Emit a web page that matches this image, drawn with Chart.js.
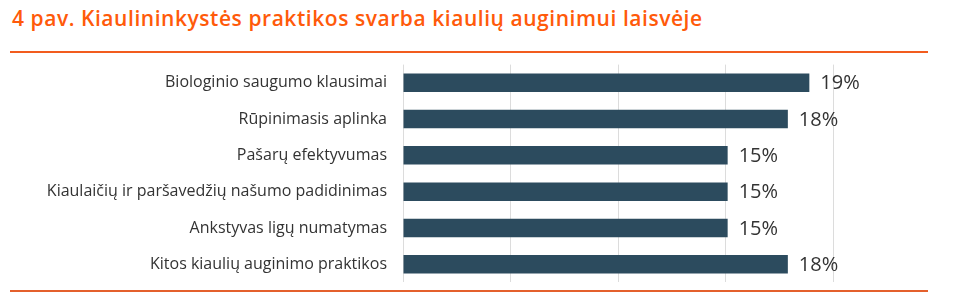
<!DOCTYPE html>
<html>
<head>
<meta charset="utf-8">
<script src="https://cdn.jsdelivr.net/npm/chart.js@4"></script>
<style>
  body { margin: 0; background: #fff; }
  #wrap { position: relative; width: 962px; height: 299px; }
  #title {
    position: absolute; left: 12px; top: 4px;
    font-family: "Open Sans", sans-serif; font-weight: 600; font-size: 21px;
    letter-spacing: 0.55px; color: #ff5a0a; white-space: nowrap;
  }
  .rule { position: absolute; left: 10px; width: 918px; height: 2px; background: #f25c1e; z-index: 2; }
  #chart-box { position: absolute; left: 0; top: 39px; width: 962px; height: 269px; }
</style>
</head>
<body>
<div id="wrap">
  <div id="title">4 pav. Kiaulininkystės praktikos svarba kiaulių auginimui laisvėje</div>
  <div class="rule" style="top:51px"></div>
  <div id="chart-box"><canvas id="bar-chart"></canvas></div>
  <div class="rule" style="top:290px; background:#e4602c"></div>
</div>
<script>
const categories = [
  "Biologinio saugumo klausimai",
  "Rūpinimasis aplinka",
  "Pašarų efektyvumas",
  "Kiaulaičių ir paršavedžių našumo padidinimas",
  "Ankstyvas ligų numatymas",
  "Kitos kiaulių auginimo praktikos"
];
const shares = [18.9, 17.9, 15.1, 15.1, 15.1, 17.9];
const shareLabels = ["19%", "18%", "15%", "15%", "15%", "18%"];

// rašo reikšmes šalia stulpelių
const valueLabels = {
  id: "valueLabels",
  afterDatasetsDraw(chart) {
    const ctx = chart.ctx;
    const meta = chart.getDatasetMeta(0);
    ctx.save();
    ctx.font = "20px 'Open Sans'";
    ctx.fillStyle = "#333";
    ctx.textAlign = "left";
    ctx.textBaseline = "middle";
    meta.data.forEach((bar, i) => {
      ctx.fillText(shareLabels[i], bar.x + 11, bar.y + 1);
    });
    ctx.restore();
  }
};

async function drawChart() {
  await document.fonts.load("16px 'Open Sans'");
  await document.fonts.load("20px 'Open Sans'");
  new Chart(document.getElementById("bar-chart"), {
    type: "bar",
    data: {
      labels: categories,
      datasets: [{
        data: shares,
        backgroundColor: "#2c4b5e",
        categoryPercentage: 1,
        barPercentage: 0.51
      }]
    },
    options: {
      indexAxis: "y",
      responsive: true,
      maintainAspectRatio: false,
      animation: false,
      layout: { padding: { top: 9, bottom: 7, right: 129, left: 0 } },
      plugins: { legend: { display: false }, tooltip: { enabled: false } },
      scales: {
        x: {
          min: 0, max: 20,
          ticks: { display: false, stepSize: 5 },
          grid: { color: "#dcdcdc", drawTicks: false },
          border: { display: false }
        },
        y: {
          afterFit(scale) { scale.width = 403; },
          grid: { display: false, drawTicks: false },
          border: { display: false },
          ticks: {
            color: "#333",
            padding: 16,
            font: { family: "'Open Sans'", size: 16 }
          }
        }
      }
    },
    plugins: [valueLabels]
  });
}
drawChart();
</script>
</body>
</html>
